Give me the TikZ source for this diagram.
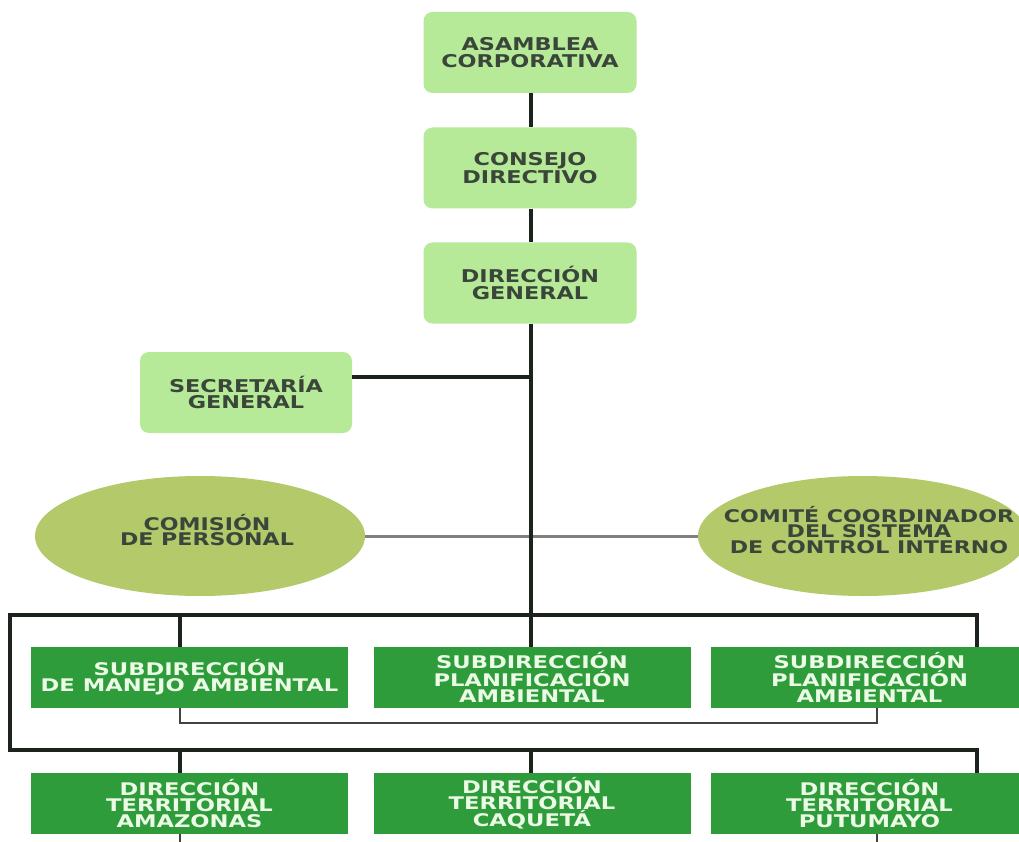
\documentclass[tikz,border=0pt]{standalone}
\usepackage{fontspec}
\usetikzlibrary{shapes.geometric}
\newfontfamily\orgf[FakeStretch=1.27]{DejaVu Sans Bold}
\newfontfamily\orgw[FakeStretch=1.3]{DejaVu Sans Bold}
\definecolor{lightg}{HTML}{B7EA98}
\definecolor{oliveg}{HTML}{B3C96A}
\definecolor{darkg}{HTML}{2F9C3B}
\definecolor{txtdark}{HTML}{3A463A}
\definecolor{txtlight}{HTML}{ECFBE6}
\definecolor{linek}{HTML}{1C231C}
\definecolor{lineg}{HTML}{7E827E}
\begin{document}
\begin{tikzpicture}[x=1pt,y=-1pt,
  topbox/.style={fill=lightg, rounded corners=9pt, minimum width=213pt, minimum height=81pt,
    inner sep=0pt, align=center, text=txtdark, font=\orgf\fontsize{17.6}{16.5}\selectfont},
  ovalbox/.style={ellipse, fill=oliveg, minimum width=330pt, minimum height=120pt, inner sep=0pt},
  ovaltext/.style={align=center, text=txtdark, inner sep=0pt, font=\orgf\fontsize{17.4}{15.5}\selectfont},
  greenbox/.style={fill=darkg, minimum width=317pt, minimum height=61pt, inner sep=0pt,
    align=center, text=txtlight, font=\orgw\fontsize{17.4}{16}\selectfont},
  mainline/.style={draw=linek, line width=4pt},
  thinline/.style={draw=linek!85, line width=2.2pt},
  grayline/.style={draw=lineg, line width=3pt}]
\useasboundingbox (0,0) rectangle (1019,842);
\fill[white] (0,0) rectangle (1019,842);

% top chain
\node[topbox] (asam) at (530,52.5) {ASAMBLEA\\CORPORATIVA};
\node[topbox] (cons) at (530,168) {CONSEJO\\DIRECTIVO};
\node[topbox] (dg)   at (530,283) {DIRECCIÓN\\GENERAL};
\node[topbox, minimum width=212pt] (sec) at (246,392.5) {SECRETARÍA\\GENERAL};

% ellipses
\node[ovalbox] (com) at (200,536) {};
\node[ovalbox] (cci) at (863,536) {};
\node[ovaltext] (comt) at (207,530) {COMISIÓN\\DE PERSONAL};
\node[ovaltext] (ccit) at (869,530) {COMITÉ COORDINADOR\\DEL SISTEMA\\DE CONTROL INTERNO};

% subdirecciones
\node[greenbox] (sub1) at (189.5,677.5) {SUBDIRECCIÓN\\DE MANEJO AMBIENTAL};
\node[greenbox] (sub2) at (532,677.5) {SUBDIRECCIÓN\\PLANIFICACIÓN\\AMBIENTAL};
\node[greenbox] (sub3) at (869.5,677.5) {SUBDIRECCIÓN\\PLANIFICACIÓN\\AMBIENTAL};

% direcciones territoriales
\node[greenbox] (dt1) at (189.5,803.5) {DIRECCIÓN\\TERRITORIAL\\AMAZONAS};
\node[greenbox] (dt2) at (532,803.5) {DIRECCIÓN\\TERRITORIAL\\CAQUETÁ};
\node[greenbox] (dt3) at (869.5,803.5) {DIRECCIÓN\\TERRITORIAL\\PUTUMAYO};

% coordinates
\coordinate (jsec) at (531,377);
\coordinate (jtop) at (531,615);
\coordinate (tl) at (10,615);
\coordinate (tr) at (977,615);
\coordinate (t1) at (180,615);
\coordinate (bl) at (10,750);
\coordinate (br) at (977,750);
\coordinate (b1) at (180,750);
\coordinate (b2) at (531,750);
\coordinate (k1) at (180,723);
\coordinate (k3) at (877,723);
\coordinate (s1) at (180,842);
\coordinate (s3) at (877,842);

% connectors
\draw[grayline] (com.east) -- (cci.west);
\draw[mainline] (asam.south -| jtop) -- (cons.north -| jtop);
\draw[mainline] (cons.south -| jtop) -- (dg.north -| jtop);
\draw[mainline] (dg.south -| jtop) -- (jtop);
\draw[mainline] (jsec) -- (jsec -| sec.east);
\draw[mainline, line cap=rect] (tr) -- (tl) -- (bl) -- (br);
\draw[mainline] (t1) -- (t1 |- sub1.north);
\draw[mainline] (jtop) -- (jtop |- sub2.north);
\draw[mainline] (tr) -- (tr |- sub3.north);
\draw[thinline] (k1 |- sub1.south) -- (k1) -- (k3) -- (k3 |- sub3.south);
\draw[mainline] (b1) -- (b1 |- dt1.north);
\draw[mainline] (b2) -- (b2 |- dt2.north);
\draw[mainline] (br) -- (br |- dt3.north);
\draw[thinline] (s1 |- dt1.south) -- (s1);
\draw[thinline] (s3 |- dt3.south) -- (s3);
\end{tikzpicture}
\end{document}
